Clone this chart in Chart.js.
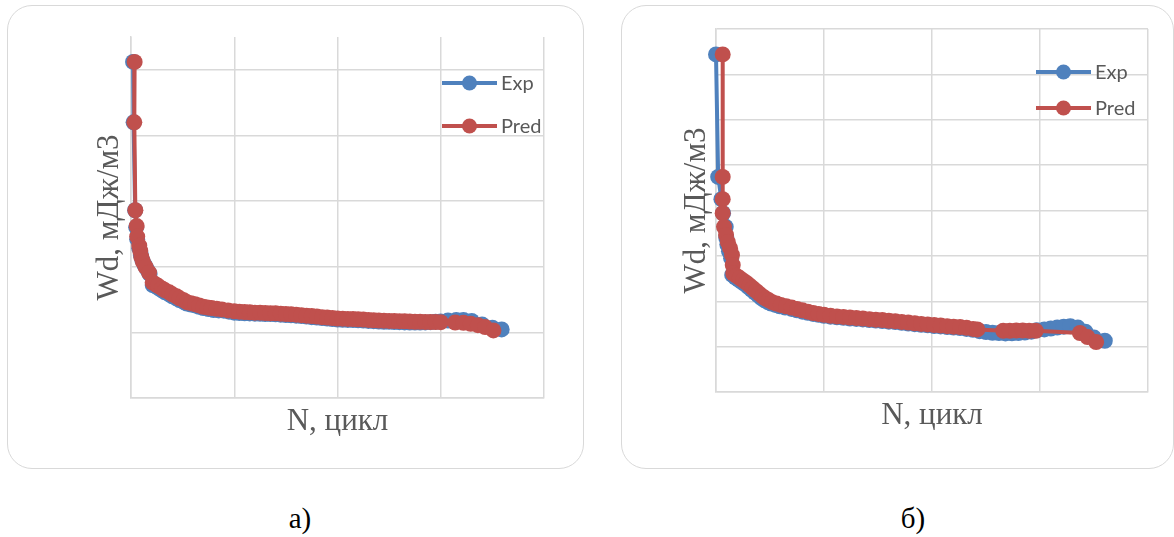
<!DOCTYPE html>
<html>
<head>
<meta charset="utf-8">
<script src="https://cdn.jsdelivr.net/npm/chart.js@4.4.1/dist/chart.umd.min.js"></script>
<style>
body{margin:0;background:#fff;width:1174px;height:537px;overflow:hidden;position:relative}
.box{position:absolute;top:5px;height:464px;border:1.5px solid #d9d9d9;border-radius:25px;box-sizing:border-box}
canvas{position:absolute;top:0}
.cap{position:absolute;top:504px;width:120px;text-align:center;font:29px "Liberation Serif",serif;line-height:1;color:#000}
</style>
</head>
<body>
<div class="box" style="left:7px;width:577px"></div>
<div class="box" style="left:621px;width:553px"></div>
<canvas id="chartA" width="590" height="480" style="left:0"></canvas>
<canvas id="chartB" width="574" height="480" style="left:600px"></canvas>
<div class="cap" style="left:240px">а)</div>
<div class="cap" style="left:853px">б)</div>
<script>
// а) - N (grid step = 1) and Wd
const nExpA=[0.02,0.025,0.04,0.05,0.06,0.08,0.095,0.11,0.13,0.155,
  0.18,0.21,0.24,0.27,0.30,0.33,0.37,0.40,0.44,0.47,
  0.51,0.54,0.58,0.62,0.66,0.70,0.75,0.80,0.85,0.90,
  0.95,1.00,1.05,1.10,1.15,1.20,1.25,1.30,1.35,1.40,
  1.45,1.50,1.55,1.60,1.65,1.70,1.75,1.80,1.85,1.90,
  1.95,2.00,2.05,2.10,2.15,2.20,2.25,2.30,2.35,2.40,
  2.45,2.50,2.55,2.60,2.65,2.70,2.75,2.80,2.85,2.90,
  2.95,3.00,3.07,3.15,3.22,3.30,3.40,3.50,3.59];
const wExpA=[5.12,4.20,2.86,2.60,2.42,2.28,2.18,2.10,2.03,1.96,
  1.89,1.72,1.70,1.67,1.64,1.61,1.58,1.55,1.52,1.49,
  1.465,1.44,1.425,1.41,1.39,1.37,1.355,1.34,1.335,1.33,
  1.315,1.30,1.295,1.29,1.288,1.285,1.282,1.28,1.278,1.275,
  1.27,1.265,1.26,1.255,1.248,1.24,1.232,1.225,1.218,1.21,
  1.202,1.195,1.192,1.19,1.188,1.185,1.18,1.175,1.17,1.165,
  1.162,1.16,1.158,1.155,1.152,1.15,1.15,1.15,1.152,1.155,
  1.16,1.165,1.18,1.19,1.19,1.175,1.12,1.07,1.045];
const nPredA=[0.035,0.032,0.042,0.055,0.06,0.08,0.09,0.10,0.115,0.14,
  0.175,0.21,0.24,0.26,0.30,0.33,0.37,0.40,0.44,0.47,
  0.51,0.54,0.58,0.62,0.66,0.70,0.74,0.78,0.83,0.88,
  0.94,1.0,1.05,1.1,1.15,1.2,1.25,1.3,1.35,1.4,
  1.45,1.5,1.55,1.6,1.65,1.7,1.75,1.8,1.85,1.9,
  1.95,2.0,2.05,2.1,2.15,2.2,2.25,2.3,2.35,2.4,
  2.45,2.5,2.55,2.6,2.65,2.7,2.75,2.8,2.85,2.9,
  2.95,3.0,3.14,3.22,3.29,3.36,3.43,3.51];
const wPredA=[5.12,4.20,2.86,2.62,2.46,2.32,2.24,2.15,2.08,2.00,
  1.91,1.76,1.73,1.71,1.67,1.64,1.61,1.58,1.55,1.52,
  1.49,1.46,1.445,1.43,1.41,1.39,1.38,1.37,1.36,1.35,
  1.335,1.32,1.315,1.31,1.305,1.30,1.30,1.295,1.29,1.29,
  1.285,1.28,1.275,1.27,1.262,1.255,1.248,1.24,1.232,1.225,
  1.218,1.21,1.208,1.205,1.202,1.20,1.195,1.19,1.185,1.18,
  1.178,1.175,1.172,1.17,1.168,1.165,1.162,1.16,1.159,1.158,
  1.156,1.155,1.15,1.145,1.13,1.11,1.08,1.03];

// б)
const nExpB=[0.0,0.02,0.05,0.065,0.09,0.095,0.105,0.12,0.14,0.15,
  0.18,0.21,0.24,0.27,0.30,0.33,0.36,0.39,0.42,0.45,
  0.48,0.51,0.55,0.59,0.64,0.70,0.75,0.80,0.85,0.90,
  0.95,1.00,1.06,1.12,1.18,1.24,1.30,1.36,1.42,1.48,
  1.54,1.60,1.66,1.72,1.78,1.84,1.90,1.96,2.02,2.08,
  2.14,2.20,2.26,2.32,2.38,2.44,2.50,2.56,2.62,2.68,
  2.74,2.80,2.86,2.92,2.97,3.04,3.10,3.16,3.22,3.28,
  3.35,3.42,3.50,3.60];
const wExpB=[7.44,4.74,4.25,3.94,3.64,3.40,3.25,3.10,2.95,2.58,
  2.52,2.47,2.42,2.37,2.31,2.25,2.19,2.13,2.07,2.02,
  1.98,1.95,1.92,1.89,1.86,1.83,1.80,1.77,1.745,1.72,
  1.70,1.68,1.66,1.645,1.635,1.62,1.61,1.60,1.585,1.575,
  1.565,1.55,1.54,1.525,1.51,1.495,1.48,1.47,1.455,1.445,
  1.43,1.42,1.41,1.39,1.37,1.34,1.32,1.305,1.30,1.29,
  1.295,1.30,1.31,1.33,1.36,1.38,1.40,1.42,1.44,1.45,
  1.42,1.33,1.20,1.13];
const nPredB=[0.062,0.062,0.062,0.062,0.074,0.093,0.11,0.13,0.148,0.155,
  0.16,0.19,0.22,0.25,0.28,0.31,0.34,0.37,0.40,0.43,
  0.46,0.49,0.52,0.56,0.60,0.65,0.70,0.75,0.80,0.85,
  0.90,0.95,1.00,1.06,1.12,1.18,1.24,1.30,1.36,1.42,
  1.48,1.54,1.60,1.66,1.72,1.78,1.84,1.90,1.96,2.02,
  2.08,2.14,2.20,2.26,2.32,2.38,2.42,2.66,2.72,2.78,
  2.84,2.90,2.96,3.37,3.44,3.52];
const wPredB=[7.44,4.74,4.25,3.94,3.64,3.46,3.30,3.17,3.02,2.80,
  2.61,2.56,2.51,2.46,2.41,2.35,2.29,2.23,2.17,2.11,
  2.06,2.02,1.98,1.95,1.92,1.89,1.86,1.83,1.80,1.77,
  1.74,1.72,1.70,1.68,1.665,1.655,1.64,1.63,1.62,1.605,
  1.595,1.585,1.57,1.56,1.545,1.53,1.515,1.50,1.49,1.475,
  1.465,1.45,1.44,1.43,1.415,1.39,1.38,1.35,1.35,1.355,
  1.355,1.35,1.35,1.30,1.21,1.10];

const labels=['Exp','Pred'];
const xTitle='N, цикл', yTitle='Wd, мДж/м3';
const BLUE='#4f81bd', RED='#c0504d', GRID='#d9d9d9', TXT='#595959';

const pts=(xs,ys)=>xs.map((x,i)=>({x,y:ys[i]}));
const ds=(label,data,color,order)=>({label,data,borderColor:color,backgroundColor:color,pointBorderColor:color,
  borderWidth:4,pointRadius:8,pointHoverRadius:8,pointBorderWidth:0,order,clip:false,tension:0});

// legend drawn inside the plot, like the Excel one
const inLegend={
  id:'inLegend',
  afterDraw(chart,args,o){
    const {ctx,chartArea:a}=chart;
    ctx.save();
    ctx.font='20px Lato'; ctx.textBaseline='middle';
    chart.data.datasets.forEach((d,i)=>{
      const x=a.right-o.dx, y=a.top+o.dy+i*o.gap;
      ctx.strokeStyle=d.borderColor; ctx.lineWidth=4;
      ctx.beginPath(); ctx.moveTo(x,y); ctx.lineTo(x+55,y); ctx.stroke();
      ctx.fillStyle=d.backgroundColor;
      ctx.beginPath(); ctx.arc(x+27.5,y,7.5,0,Math.PI*2); ctx.fill();
      ctx.fillStyle=TXT; ctx.fillText(d.label,x+59,y+1);
    });
    ctx.restore();
  }
};

function makeChart(id,expX,expY,predX,predY,yMax,pad,yPad,leg){
  new Chart(document.getElementById(id),{
    type:'line',
    data:{datasets:[ds(labels[0],pts(expX,expY),BLUE,2),ds(labels[1],pts(predX,predY),RED,1)]},
    options:{
      responsive:false,animation:false,
      layout:{padding:pad},
      plugins:{legend:{display:false},tooltip:{enabled:false},inLegend:leg},
      scales:{
        x:{type:'linear',min:0,max:4,bounds:'data',
          ticks:{display:false,stepSize:1},
          grid:{color:GRID,lineWidth:1.5,drawTicks:false},
          border:{color:GRID,width:1.5},
          title:{display:true,text:xTitle,color:TXT,font:{family:'Liberation Serif',size:31,lineHeight:1.2},padding:{top:5.4,bottom:4}}},
        y:{type:'linear',min:0,max:yMax,bounds:'data',
          ticks:{display:false,stepSize:1,includeBounds:false},
          grid:{color:GRID,lineWidth:1.5,drawTicks:false},
          border:{color:GRID,width:1.5},
          title:{display:true,text:yTitle,color:TXT,font:{family:'Liberation Serif',size:31,lineHeight:1.2},padding:yPad}}
      }
    },
    plugins:[inLegend]
  });
}

makeChart('chartA',nExpA,wExpA,nPredA,wPredA,5.5,
  {left:87.4,right:46,top:37,bottom:35.4},{top:4,bottom:2.4},{dx:102,dy:46,gap:43});
makeChart('chartB',nExpB,wExpB,nPredB,wPredB,8,
  {left:74.4,right:26,top:29,bottom:41.4},{top:4,bottom:0.4},{dx:112,dy:43,gap:36});
</script>
</body>
</html>
